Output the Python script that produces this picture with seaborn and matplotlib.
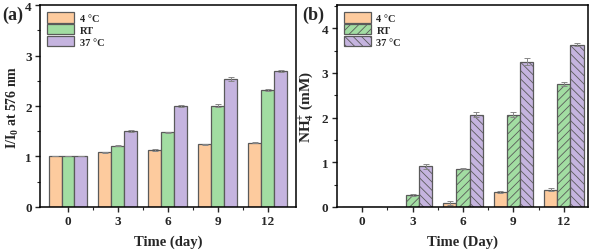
import numpy as np
import pandas as pd
import matplotlib
matplotlib.use('Agg')
import matplotlib.pyplot as plt
import seaborn as sns
from matplotlib.ticker import MultipleLocator, FixedLocator

# data
days = ['0', '3', '6', '9', '12']
temps = ['4 °C', 'RT', '37 °C']
colors = ['#FDCB9E', '#A2DDA2', '#C5B4DF']

# (a) I/I0 at 576 nm
ratio_4c = [1.00, 1.08, 1.13, 1.24, 1.27]
ratio_rt = [1.00, 1.21, 1.48, 2.01, 2.31]
ratio_37 = [1.00, 1.50, 2.01, 2.53, 2.70]
ratio_err_4c = [0.0, 0.005, 0.02, 0.01, 0.01]
ratio_err_rt = [0.0, 0.01, 0.01, 0.03, 0.02]
ratio_err_37 = [0.0, 0.02, 0.02, 0.04, 0.02]

# (b) NH4+ (mM)
nh4_4c = [0.0, 0.0, 0.09, 0.33, 0.39]
nh4_rt = [0.0, 0.26, 0.86, 2.07, 2.75]
nh4_37 = [0.0, 0.91, 2.07, 3.25, 3.63]
nh4_err_4c = [0.0, 0.0, 0.04, 0.02, 0.03]
nh4_err_rt = [0.0, 0.02, 0.02, 0.06, 0.05]
nh4_err_37 = [0.0, 0.05, 0.05, 0.08, 0.03]


def long_df(series):
    rows = []
    for t, vals in zip(temps, series):
        for d, v in zip(days, vals):
            rows.append({'Day': d, 'Temp': t, 'Value': v})
    return pd.DataFrame(rows)


sns.set_style('ticks')
plt.rcParams['font.family'] = ['Liberation Serif', 'DejaVu Serif']
plt.rcParams['font.weight'] = 'bold'
plt.rcParams['axes.labelweight'] = 'bold'
plt.rcParams['mathtext.fontset'] = 'custom'
plt.rcParams['mathtext.rm'] = 'Liberation Serif:bold'
plt.rcParams['mathtext.bf'] = 'Liberation Serif:bold'
plt.rcParams['mathtext.default'] = 'rm'
plt.rcParams['hatch.linewidth'] = 0.6

fig = plt.figure(figsize=(5.91, 2.53), dpi=100)
ax1 = fig.add_axes([0.0677, 0.178, 0.433, 0.798])
ax2 = fig.add_axes([0.570, 0.178, 0.425, 0.798])


def draw(ax, series, errs, hatches):
    df = long_df(series)
    sns.barplot(data=df, x='Day', y='Value', hue='Temp', order=days,
                hue_order=temps, palette=colors, width=0.78, errorbar=None,
                edgecolor='#5a5a5a', linewidth=0.9, saturation=1, ax=ax)
    for cont, err, h in zip(ax.containers, errs, hatches):
        for bar, e in zip(cont, err):
            if h:
                bar.set_hatch(h)
            if bar.get_height() > 0:
                ax.errorbar(bar.get_x() + bar.get_width() / 2, bar.get_height(),
                            yerr=e, color='#888888', capsize=2, elinewidth=0.7,
                            capthick=0.7, fmt='none')
    ax.legend(ax.containers, temps, loc='upper left', frameon=False,
              handlelength=2.6, handleheight=1.15,
              labelspacing=0.1, borderaxespad=0.3, handletextpad=0.5,
              prop={'family': 'Liberation Serif', 'weight': 'bold', 'size': 7.5})
    for sp in ax.spines.values():
        sp.set_visible(True)
        sp.set_linewidth(1.1)
        sp.set_color('black')
    ax.tick_params(axis='both', which='major', labelsize=9.5, length=3.5,
                   width=1, direction='out', pad=2.5)
    ax.tick_params(axis='both', which='minor', length=2, width=0.8,
                   direction='out')
    ax.yaxis.set_minor_locator(MultipleLocator(0.5))
    ax.xaxis.set_minor_locator(FixedLocator([0.5, 1.5, 2.5, 3.5]))
    for lab in ax.get_xticklabels() + ax.get_yticklabels():
        lab.set_fontweight('bold')


draw(ax1, [ratio_4c, ratio_rt, ratio_37],
     [ratio_err_4c, ratio_err_rt, ratio_err_37], [None, None, None])
ax1.set_ylim(0, 4)
ax1.set_xlim(-0.56, 4.56)
ax1.set_yticks([0, 1, 2, 3, 4])
ax1.set_xlabel('Time (day)', fontsize=10.5, labelpad=5)
ax1.set_ylabel(r'I/I$_0$ at 576 nm', fontsize=10, labelpad=3)

draw(ax2, [nh4_4c, nh4_rt, nh4_37],
     [nh4_err_4c, nh4_err_rt, nh4_err_37], [None, '////', '\\\\\\\\'])
ax2.set_ylim(0, 4.52)
ax2.set_xlim(-0.5, 4.48)
ax2.set_yticks([0, 1, 2, 3, 4])
ax2.set_xlabel('Time (Day)', fontsize=10.5, labelpad=5)
ax2.set_ylabel(r'NH$_\mathbf{4}^\mathbf{+}$ (mM)', fontsize=11, labelpad=4)

fig.text(0.004, 0.94, '(a)', fontsize=13, fontweight='bold', va='center')
fig.text(0.512, 0.94, '(b)', fontsize=13, fontweight='bold', va='center')

fig.savefig('out.png', dpi=100)
